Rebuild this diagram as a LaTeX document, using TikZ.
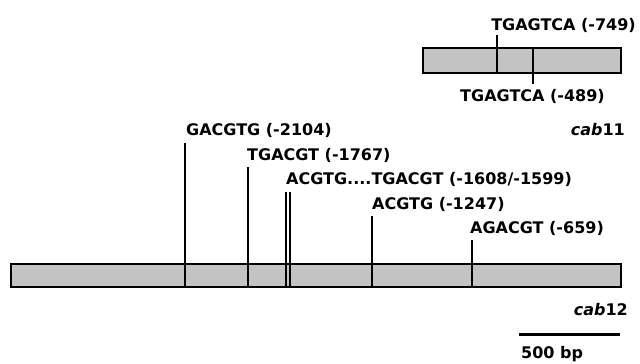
\documentclass[tikz,border=0pt]{standalone}
\usepackage{fontspec}
\setmainfont{DejaVu Sans}
\definecolor{bargray}{HTML}{C3C3C3}
\begin{document}
\begin{tikzpicture}[x=1pt,y=-1pt,
  bar/.style={draw=black,fill=bargray,line width=2pt},
  site/.style={draw=black,line width=2pt},
  lab/.style={inner sep=0pt,anchor=base west,font=\fontsize{16}{16}\selectfont\bfseries},
  labr/.style={inner sep=0pt,anchor=base east,font=\fontsize{16}{16}\selectfont\bfseries}]
\useasboundingbox (0,0) rectangle (640,364);
% cab11
\node[bar,minimum width=198.5pt,minimum height=25pt,inner sep=0pt,anchor=north west] (b11) at (421.5,47) {};
\coordinate (t1top) at (497,35); \coordinate (t1bot) at (497,72);
\coordinate (t2top) at (533,47); \coordinate (t2bot) at (533,84);
\draw[site] (t1top) -- (t1bot);
\draw[site] (t2top) -- (t2bot);
\node[labr] (l749) at (636,30) {TGAGTCA (-749)};
\node[lab] (l489) at (460,101) {TGAGTCA (-489)};
\node[labr] (n11) at (625,135) {\textit{cab}11};
% cab12
\node[bar,minimum width=610.5pt,minimum height=23pt,inner sep=0pt,anchor=north west] (b12) at (9.5,263) {};
\foreach \n/\x/\t in {a/184.5/143, b/247.5/167, c/285.5/192, d/290/192, e/372/216, f/471.5/240}{
  \coordinate (s\n top) at (\x,\t);
  \coordinate (s\n bot) at (\x,286);
  \draw[site] (s\n top) -- (s\n bot);
}
\node[lab] (la) at (186,135) {GACGTG (-2104)};
\node[lab] (lb) at (247,160) {TGACGT (-1767)};
\node[lab] (lc) at (286,184) {ACGTG....TGACGT (-1608/-1599)};
\node[lab] (le) at (372,209) {ACGTG (-1247)};
\node[lab] (lf) at (470,233) {AGACGT (-659)};
\node[labr] (n12) at (628,315) {\textit{cab}12};
% scale bar
\coordinate (sb1) at (519,334); \coordinate (sb2) at (620,334);
\draw[line width=3pt] (sb1) -- (sb2);
\node[lab] (sbl) at (521,358) {500 bp};
\end{tikzpicture}
\end{document}
